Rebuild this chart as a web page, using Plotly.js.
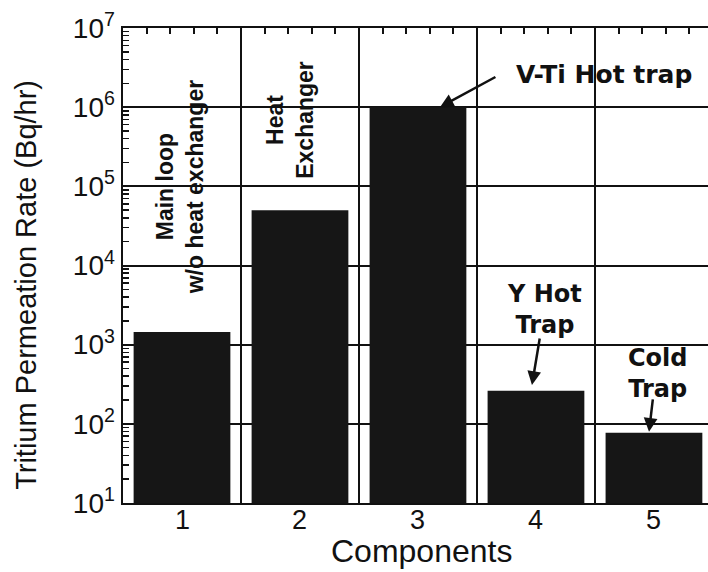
<!DOCTYPE html>
<html>
<head>
<meta charset="utf-8">
<script src="https://cdn.plot.ly/plotly-3.0.1.min.js"></script>
<style>html,body{margin:0;padding:0;background:#fff;}#chart{width:708px;height:572px;}</style>
</head>
<body>
<div id="chart"></div>
<script>
// Data
const components = [1, 2, 3, 4, 5];
const permeationRate = [1450, 50000, 1000000, 261, 77]; // Bq/hr
const xTickLabels = ['1', '2', '3', '4', '5'];
const yTickVals = [1e1, 1e2, 1e3, 1e4, 1e5, 1e6, 1e7];
const yTickText = ['10<sup>1</sup>', '10<sup>2</sup>', '10<sup>3</sup>', '10<sup>4</sup>', '10<sup>5</sup>', '10<sup>6</sup>', '10<sup>7</sup>'];
const xTitle = 'Components';
const yTitle = 'Tritium Permeation Rate (Bq/hr)';
const barLabels = ['Main loop<br>w/o heat exchanger', 'Heat<br>Exchanger', 'V-Ti Hot trap', 'Y Hot<br>Trap', 'Cold<br>Trap'];

const xRange = [0.5, 5.458];
const black = '#111111';
const baseFont = 'Liberation Sans, Arial, Helvetica, sans-serif';
const boldFont = 'DejaVu Sans, sans-serif';

const traces = [
  {
    type: 'bar', x: components, y: permeationRate,
    width: 0.82,
    marker: {color: '#161616', line: {width: 0}},
    hoverinfo: 'skip', showlegend: false
  },
  {
    type: 'scatter', x: [], y: [], xaxis: 'x2', yaxis: 'y',
    hoverinfo: 'skip', showlegend: false
  }
];

const lg = Math.log10;
const annotations = [
  // rotated labels
  {x: 0.983, y: 5.0, xref: 'x', yref: 'y', text: barLabels[0], textangle: -90, showarrow: false,
   font: {family: baseFont, size: 23, color: black, weight: 'bold'}, align: 'center'},
  {x: 1.915, y: 5.84, xref: 'x', yref: 'y', text: barLabels[1], textangle: -90, showarrow: false,
   font: {family: baseFont, size: 23, color: black, weight: 'bold'}, align: 'center'},
  // V-Ti text and arrow
  {x: 4.58, y: 6.41, xref: 'x', yref: 'y', text: barLabels[2], showarrow: false,
   font: {family: boldFont, size: 25, color: black, weight: 'bold'}},
  {x: 3.186, y: lg(permeationRate[2]), xref: 'x', yref: 'y', text: '', showarrow: true,
   ax: 57, ay: -31, arrowhead: 2, arrowsize: 1.1, arrowwidth: 2.5, arrowcolor: black},
  // Y Hot Trap
  {x: 4.076, y: 3.45, xref: 'x', yref: 'y', text: barLabels[3], showarrow: false,
   font: {family: boldFont, size: 24, color: black, weight: 'bold'}, align: 'center'},
  {x: 3.966, y: 2.49, xref: 'x', yref: 'y', text: '', showarrow: true,
   ax: 8, ay: -48, arrowhead: 2, arrowsize: 1.1, arrowwidth: 2.5, arrowcolor: black},
  // Cold Trap
  {x: 5.03, y: 2.63, xref: 'x', yref: 'y', text: barLabels[4], showarrow: false,
   font: {family: boldFont, size: 24, color: black, weight: 'bold'}, align: 'center'},
  {x: 4.958, y: 1.899, xref: 'x', yref: 'y', text: '', showarrow: true,
   ax: 4, ay: -34, arrowhead: 2, arrowsize: 1.1, arrowwidth: 2.5, arrowcolor: black},
  // y title
  {x: -0.166, y: 0.459, xref: 'paper', yref: 'paper', text: yTitle, textangle: -90, showarrow: false,
   xanchor: 'center', yanchor: 'middle', font: {family: baseFont, size: 29, color: black}},
  // x title
  {x: 3.03, y: -0.101, xref: 'x', yref: 'paper', text: xTitle, showarrow: false,
   xanchor: 'center', yanchor: 'middle', font: {family: baseFont, size: 32, color: black}}
];
// x tick labels, placed just under the axis line
components.forEach((c, i) => {
  annotations.push({x: c, y: 0, xref: 'x', yref: 'paper', text: xTickLabels[i], showarrow: false,
    xanchor: 'center', yanchor: 'top', yshift: 0,
    font: {family: baseFont, size: 27, color: black}});
});

const layout = {
  width: 708, height: 572,
  margin: {l: 123, r: 0, t: 28, b: 69, pad: 0},
  paper_bgcolor: '#ffffff', plot_bgcolor: '#ffffff',
  showlegend: false,
  font: {family: baseFont, color: black},
  xaxis: {
    range: xRange, tickmode: 'array', tickvals: components, ticktext: xTickLabels,
    ticks: '', showticklabels: false,
    showline: true, linecolor: black, linewidth: 2,
    showgrid: false, zeroline: false,
    minor: {tick0: 0.5, dtick: 1, showgrid: true, gridcolor: black, gridwidth: 2, ticks: ''}
  },
  xaxis2: {
    overlaying: 'x', side: 'top', anchor: 'y', range: xRange,
    tickmode: 'linear', tick0: 0.5, dtick: 0.2, ticks: 'inside', ticklen: 6, tickwidth: 2, tickcolor: black,
    showticklabels: false, showline: true, linecolor: black, linewidth: 2,
    showgrid: false, zeroline: false
  },
  yaxis: {
    type: 'log', range: [1, 7], tickmode: 'array', tickvals: yTickVals, ticktext: yTickText,
    ticks: 'inside', ticklen: 9, tickwidth: 2, tickcolor: black,
    showline: true, linecolor: black, linewidth: 2.5,
    showgrid: true, gridcolor: black, gridwidth: 2, zeroline: false,
    ticklabelstandoff: 0,
    tickfont: {family: baseFont, size: 28, color: black},
    minor: {dtick: 'D1', ticks: 'inside', ticklen: 6, tickwidth: 1.5, tickcolor: black, showgrid: false}
  },
  annotations: annotations
};

Plotly.newPlot('chart', traces, layout, {staticPlot: true, displayModeBar: false});
</script>
</body>
</html>
